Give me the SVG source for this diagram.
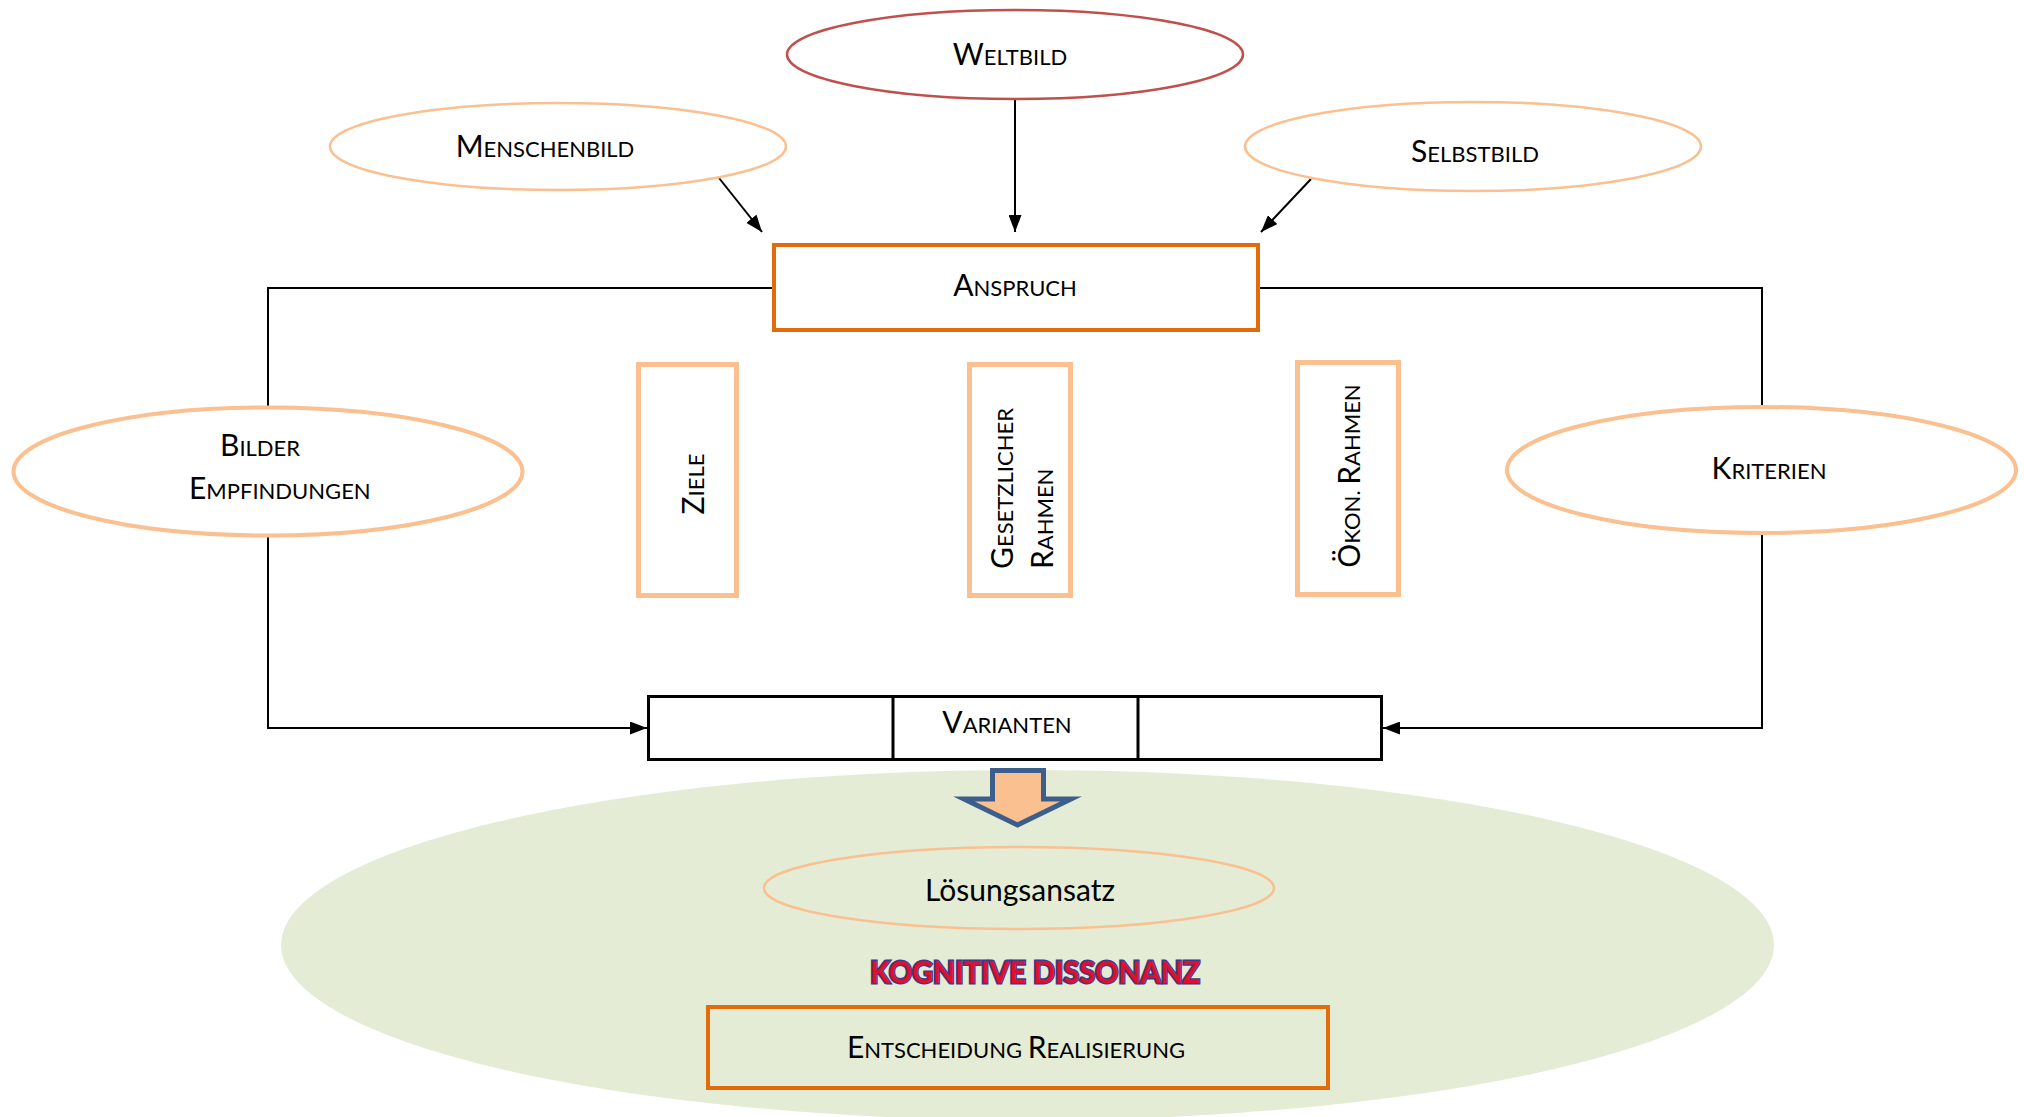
<svg xmlns="http://www.w3.org/2000/svg" width="2024" height="1117" viewBox="0 0 2024 1117">
<defs>
<style>
text{font-family:Lato,"Open Sans","Liberation Sans",sans-serif;fill:#000;}
.sc{font-size:22px;}
.b{font-size:30px;}
.peach{fill:#fff;stroke:#FAC090;}
.orange{fill:none;stroke:#E36C0A;stroke-width:4;}
.con{fill:none;stroke:#000;stroke-width:2;}
</style>
<marker id="ah" markerUnits="userSpaceOnUse" markerWidth="17" markerHeight="13" refX="17" refY="6.5" orient="auto">
<path d="M0,0 L17,6.5 L0,13 z" fill="#000"/>
</marker>
</defs>
<rect width="2024" height="1117" fill="#fff"/>

<g id="loesungsbereich">
<ellipse cx="1027.5" cy="945" rx="746.5" ry="175" fill="#E4ECD6"/>
</g>

<g id="connectors">
<line class="con" x1="1015" y1="99" x2="1015" y2="232" marker-end="url(#ah)"/>
<line class="con" x1="719" y1="178" x2="762" y2="232" marker-end="url(#ah)"/>
<line class="con" x1="1311" y1="179" x2="1261" y2="232" marker-end="url(#ah)"/>
<polyline class="con" points="772,288 268,288 268,407"/>
<polyline class="con" points="268,536 268,728 647,728" marker-end="url(#ah)"/>
<polyline class="con" points="1260,288 1762,288 1762,407"/>
<polyline class="con" points="1762,533 1762,728 1383,728" marker-end="url(#ah)"/>
</g>

<g id="weltbild">
<ellipse cx="1015" cy="54.5" rx="228" ry="44.5" fill="#fff" stroke="#C0504D" stroke-width="2.5"/>
<text x="1010" y="65" text-anchor="middle" class="sc"><tspan class="b">W</tspan>ELTBILD</text>
</g>

<g id="menschenbild">
<ellipse class="peach" cx="558" cy="146.5" rx="228" ry="43.5" stroke-width="2.5"/>
<text x="545" y="157" text-anchor="middle" class="sc"><tspan class="b">M</tspan>ENSCHENBILD</text>
</g>

<g id="selbstbild">
<ellipse class="peach" cx="1473" cy="146.5" rx="228" ry="44.5" stroke-width="2.5"/>
<text x="1475" y="162" text-anchor="middle" class="sc"><tspan class="b">S</tspan>ELBSTBILD</text>
</g>

<g id="anspruch">
<rect class="orange" x="774" y="245" width="484" height="85" style="fill:#fff"/>
<text x="1015" y="296" text-anchor="middle" class="sc"><tspan class="b">A</tspan>NSPRUCH</text>
</g>

<g id="bilder">
<ellipse class="peach" cx="268" cy="471.5" rx="254.5" ry="64" stroke-width="4"/>
<text x="220" y="456" class="sc"><tspan class="b">B</tspan>ILDER</text>
<text x="189" y="499" class="sc"><tspan class="b">E</tspan>MPFINDUNGEN</text>
</g>

<g id="kriterien">
<ellipse class="peach" cx="1761.5" cy="470" rx="254.5" ry="63" stroke-width="4"/>
<text x="1769" y="479" text-anchor="middle" class="sc"><tspan class="b">K</tspan>RITERIEN</text>
</g>

<g id="ziele">
<rect class="peach" x="638.5" y="364.5" width="98" height="231" stroke-width="5"/>
<text transform="translate(704,484) rotate(-90)" text-anchor="middle" class="sc"><tspan class="b">Z</tspan>IELE</text>
</g>

<g id="gesetzlicher-rahmen">
<rect class="peach" x="969.5" y="364.5" width="101" height="231" stroke-width="5"/>
<text transform="translate(1013,569) rotate(-90)" class="sc"><tspan class="b">G</tspan>ESETZLICHER</text>
<text transform="translate(1053,569) rotate(-90)" class="sc"><tspan class="b">R</tspan>AHMEN</text>
</g>

<g id="oekon-rahmen">
<rect class="peach" x="1297.5" y="362.5" width="101" height="232" stroke-width="5"/>
<text transform="translate(1360,476) rotate(-90)" text-anchor="middle" class="sc"><tspan class="b">Ö</tspan>KON. <tspan class="b">R</tspan>AHMEN</text>
</g>

<g id="varianten">
<rect x="648.5" y="696.5" width="733" height="63" fill="#fff" stroke="#000" stroke-width="3"/>
<line x1="893" y1="696.5" x2="893" y2="759.5" stroke="#000" stroke-width="3"/>
<line x1="1138" y1="696.5" x2="1138" y2="759.5" stroke="#000" stroke-width="3"/>
<text x="1007" y="733" text-anchor="middle" class="sc"><tspan class="b">V</tspan>ARIANTEN</text>
</g>

<g id="pfeil">
<path d="M992.5,770.5 L1043.5,770.5 L1043.5,799 L1071,799 L1017.5,825 L964,799 L992.5,799 Z" fill="#FAC090" stroke="#3B5E8C" stroke-width="5" stroke-linejoin="miter" stroke-miterlimit="10"/>
</g>

<g id="loesungsansatz">
<ellipse cx="1019" cy="888" rx="255" ry="41" fill="#E4ECD6" stroke="#FAC090" stroke-width="2.5"/>
<text x="1020" y="901" text-anchor="middle" font-size="30">Lösungsansatz</text>
</g>

<g id="kognitive-dissonanz">
<text x="1035" y="983" text-anchor="middle" font-size="31" font-weight="bold" textLength="330" lengthAdjust="spacingAndGlyphs" style="fill:#E0102A;stroke:#3E3A8E;stroke-width:3;paint-order:stroke">KOGNITIVE DISSONANZ</text>
</g>

<g id="entscheidung">
<rect class="orange" x="708" y="1007" width="620" height="81"/>
<text x="1016" y="1058" text-anchor="middle" class="sc"><tspan class="b">E</tspan>NTSCHEIDUNG <tspan class="b">R</tspan>EALISIERUNG</text>
</g>
</svg>
